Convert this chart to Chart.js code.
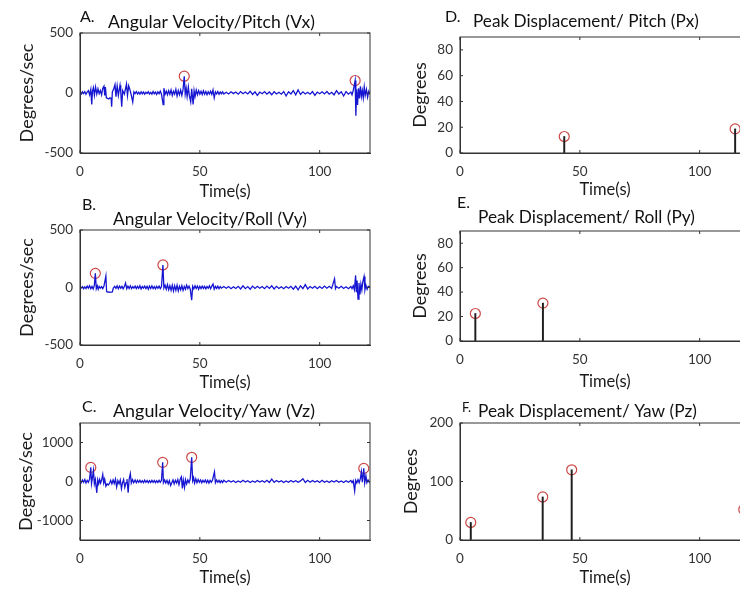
<!DOCTYPE html>
<html>
<head>
<meta charset="utf-8">
<script src="https://cdn.jsdelivr.net/npm/chart.js@4.4.1/dist/chart.umd.min.js"></script>
<style>
  html, body { margin: 0; padding: 0; background: #fff; }
  #figure { position: relative; width: 740px; height: 590px; overflow: hidden; background: #fff; }
  #figure canvas { position: absolute; }
</style>
</head>
<body>
<div id="figure">
  <canvas id="chartVx" width="380" height="205" style="left:0;top:0"></canvas>
  <canvas id="chartVy" width="380" height="205" style="left:0;top:195px"></canvas>
  <canvas id="chartVz" width="380" height="200" style="left:0;top:390px"></canvas>
  <canvas id="chartPx" width="380" height="205" style="left:380px;top:0"></canvas>
  <canvas id="chartPy" width="380" height="205" style="left:380px;top:195px"></canvas>
  <canvas id="chartPz" width="380" height="200" style="left:380px;top:390px"></canvas>
</div>
<script>
/* ---- data ---- */
const timeTicks = [0, 50, 100];
const velTicks = [-500, 0, 500];
const yawVelTicks = [-1000, 0, 1000];
const dispTicks = [0, 20, 40, 60, 80];
const yawDispTicks = [0, 100, 200];

// angular velocity traces, [time s, deg/s]
const vxTrace = [[0,5],[0.5,-8],[1,10],[1.5,-5],[2,12],[2.5,-10],[3,8],[3.5,20],[4,-15],[4.5,30],[4.9,-95],[5.2,15],[5.6,45],[6,-20],[6.5,50],[7,-10],[7.5,35],[8,-5],[8.5,20],[9,-15],[9.5,40],[10,57],[10.3,-20],[10.6,50],[11,-40],[11.5,-45],[12,-50],[12.5,-40],[13,-45],[13.2,-115],[13.5,10],[14,30],[14.6,70],[15,-30],[15.5,60],[16,-20],[16.7,65],[17,10],[17.4,-115],[17.8,20],[18.5,-10],[19.4,75],[19.8,-20],[20.3,60],[20.8,30],[21.3,-10],[22,-75],[22.5,10],[23,-5],[23.5,12],[24,-8],[24.5,6],[25,-10],[25.5,10],[26,-6],[26.5,8],[27,-10],[27.5,6],[28,-4],[28.5,10],[29,-8],[29.5,5],[30,-10],[30.5,12],[31,-6],[31.5,8],[32,-12],[32.5,10],[33,-5],[33.5,15],[34,-10],[34.7,-96],[35,40],[35.5,-10],[36,15],[36.5,-15],[37,20],[37.5,-10],[38,25],[38.5,-20],[39,15],[39.5,-10],[40,30],[40.5,-25],[41,20],[41.5,-15],[42,25],[42.5,-20],[43,30],[43.5,140],[43.9,-10],[44.3,40],[44.7,-30],[45.2,50],[45.6,-20],[46.2,-75],[46.6,35],[47.2,-95],[47.6,20],[48,-30],[48.5,25],[49,-15],[49.5,20],[50,-10],[50.5,15],[51,-12],[51.5,18],[52,-10],[52.5,12],[53,-15],[53.5,10],[54,-8],[54.5,15],[55,-12],[55.5,25],[56,-40],[56.5,10],[57,-8],[57.5,12],[58,-10],[58.5,8],[59,-6],[59.5,10],[60,-8],[61,6],[62,-8],[63,10],[64,-5],[65,8],[66,-10],[67,12],[68,-6],[69,8],[70,-8],[71,15],[72,-12],[73,10],[74,-20],[75,8],[76,-6],[77,12],[78,-10],[79,8],[80,-15],[81,10],[82,-8],[83,6],[84,-10],[85,12],[86,-25],[87,10],[88,-8],[89,20],[90,-15],[91,25],[92,-12],[93,10],[94,-8],[95,6],[96,-10],[97,12],[98,-20],[99,8],[100,-6],[101,10],[102,-8],[103,12],[104,-10],[105,6],[106,-15],[107,20],[108,-8],[109,10],[110,-25],[111,12],[112,-10],[113,8],[113.5,-15],[114,20],[114.8,104],[115.1,-190],[115.4,30],[115.8,-100],[116.2,40],[116.6,-45],[117,55],[117.4,-30],[117.8,20],[118.2,-40],[118.6,50],[119,-20],[119.5,30],[120,-35],[120.5,15],[121,-10]];

const vyTrace = [[0,5],[0.5,-5],[1,8],[1.5,-10],[2,6],[2.5,-8],[3,12],[3.5,-5],[4,15],[4.5,-10],[5,10],[5.5,-12],[6,20],[6.4,123],[6.8,-10],[7.2,15],[7.6,-15],[8,10],[8.5,-5],[9,8],[9.5,-10],[10,12],[10.8,100],[11.1,-35],[11.5,-40],[12,-38],[12.5,-42],[13,-40],[13.5,-38],[13.9,-5],[14.5,10],[15,-8],[15.5,15],[16,-10],[16.5,12],[17,-6],[17.5,10],[18,-12],[18.5,8],[19,40],[19.5,-10],[20,12],[20.5,-8],[21,15],[21.5,-10],[22,8],[22.5,-6],[23,12],[23.5,-10],[24,10],[24.5,-8],[25,15],[25.5,-12],[26,8],[26.5,-6],[27,12],[27.5,-10],[28,10],[28.5,-15],[29,12],[29.5,-8],[30,15],[30.5,-10],[31,8],[31.5,-12],[32,10],[32.5,-6],[33,12],[33.5,-10],[34,8],[34.6,196],[35,-5],[35.5,20],[36,-15],[36.5,25],[37,-20],[37.5,15],[38,-25],[38.5,20],[39,-30],[39.5,15],[40,-25],[40.5,20],[41,-30],[41.5,10],[42,-20],[42.5,15],[43,-25],[43.5,10],[44,-15],[44.5,20],[45,-10],[45.5,12],[46,-15],[46.6,-110],[47,10],[47.5,-12],[48,15],[48.5,-8],[49,12],[49.5,-15],[50,10],[50.5,-10],[51,12],[51.5,-8],[52,10],[52.5,-12],[53,8],[53.5,-6],[54,15],[54.5,-10],[55,12],[55.5,30],[56,-15],[56.5,10],[57,-8],[57.5,12],[58,-10],[58.5,8],[59,-6],[60,8],[61,-6],[62,8],[63,-10],[64,6],[65,-8],[66,10],[67,-12],[68,15],[69,-10],[70,8],[71,-15],[72,12],[73,-8],[74,10],[75,-6],[76,8],[77,-10],[78,12],[79,-8],[80,15],[81,-12],[82,10],[83,-8],[84,6],[85,-10],[86,8],[87,-6],[88,10],[89,-15],[90,12],[91,-20],[92,15],[93,-10],[94,25],[95,-12],[96,8],[97,-6],[98,10],[99,-10],[100,8],[101,-8],[102,12],[103,-6],[104,10],[105,-8],[106.2,75],[106.6,-10],[107,8],[108,-6],[109,10],[110,-8],[111,6],[112,-10],[113,8],[113.5,-10],[114,15],[114.5,-20],[115,105],[115.3,-40],[115.6,60],[116,-100],[116.4,40],[116.8,-60],[117.2,30],[117.6,-20],[118,50],[118.5,95],[118.9,-20],[119.3,20],[119.8,-15],[120.3,10],[121,5]];

const vzTrace = [[0,20],[0.5,-30],[1,40],[1.5,-20],[2,50],[2.5,-40],[3,30],[3.5,-20],[4,60],[4.5,362],[4.8,-50],[5.2,100],[5.6,280],[6,-60],[6.4,50],[7,-290],[7.4,40],[7.8,-60],[8.2,50],[8.6,-40],[9,30],[9.5,180],[9.9,-40],[10.3,60],[10.8,-120],[11.3,-60],[11.8,-90],[12.3,-50],[12.8,30],[13.3,-60],[13.8,40],[14.3,-50],[14.8,60],[15.3,-140],[15.8,20],[16.3,-60],[16.8,40],[17.3,-180],[17.7,-40],[18.2,50],[18.7,-150],[19.2,-30],[19.6,60],[20.1,-290],[20.5,60],[21,200],[21.4,-40],[21.9,50],[22.4,-30],[23,40],[23.5,-30],[24,30],[24.5,-20],[25,30],[25.5,-25],[26,20],[26.5,-30],[27,35],[27.5,-20],[28,25],[28.5,-30],[29,20],[29.5,-25],[30,30],[30.5,-20],[31,25],[31.5,-30],[32,20],[32.5,-25],[33,30],[33.5,-20],[34,30],[34.5,491],[34.8,-30],[35.3,40],[35.8,-40],[36.3,30],[36.8,-60],[37.3,20],[37.8,-100],[38.3,-30],[38.8,40],[39.3,-60],[39.8,30],[40.3,-40],[40.8,50],[41.3,-80],[41.8,60],[42.3,120],[42.7,-180],[43.1,40],[43.6,-150],[44,50],[44.5,-60],[45,40],[45.5,-30],[46,70],[46.6,620],[47,20],[47.4,100],[47.8,-40],[48.3,70],[48.8,-30],[49.3,50],[49.8,-20],[50.3,40],[50.8,-30],[51.3,30],[51.8,-20],[52.3,40],[52.8,-30],[53.3,30],[53.8,-40],[54.3,30],[54.8,-20],[55.3,40],[56.1,250],[56.5,-30],[57,40],[57.5,-20],[58,30],[58.5,-30],[59,20],[59.5,-25],[60,30],[61,-20],[62,25],[63,-15],[64,20],[65,-25],[66,15],[67,-20],[68,30],[69,-15],[70,20],[71,-25],[72,15],[73,-20],[74,25],[75,-15],[76,20],[77,-20],[78,30],[79,-25],[80,60],[81,-20],[82,25],[83,-15],[84,20],[85,-25],[86,15],[87,-20],[88,25],[89,-15],[90,20],[91,-20],[92,15],[93,70],[94,-25],[95,30],[96,-20],[97,25],[98,-15],[99,20],[100,-25],[101,30],[102,-20],[103,15],[104,-25],[105,20],[106,-15],[107,25],[108,-20],[109,15],[110,-25],[111,20],[112,-20],[113,25],[113.5,-30],[114,20],[114.6,-240],[115,30],[115.5,-40],[116,50],[116.5,-30],[117,80],[117.4,250],[117.8,-20],[118.4,336],[118.8,-40],[119.3,150],[119.7,-30],[120.2,40],[120.7,-20],[121,10]];

// detected peaks on the velocity traces, [time s, deg/s]
const vxPeaks = [[43.5,140],[114.8,104]];
const vyPeaks = [[6.4,123],[34.6,196]];
const vzPeaks = [[4.5,362],[34.5,491],[46.6,620],[118.4,336]];

// peak displacement stems, [time s, degrees]
const pxPeaks = [[43.5,12.8],[114.8,18.7]];
const pyPeaks = [[6.4,22.5],[34.6,31]];
const pzPeaks = [[4.5,30],[34.5,73.6],[46.6,120],[118.4,52]];

/* ---- drawing ---- */
const FONT = "Lato, 'Open Sans', sans-serif";
const toXY = arr => arr.map(([x, y]) => ({ x, y }));

// panel heading (letter + title) and the MATLAB style box with inward ticks
const framePlugin = {
  id: "frame",
  afterDraw(chart, args, opts) {
    const ctx = chart.ctx;
    const a = chart.chartArea;
    const sx = chart.scales.x, sy = chart.scales.y;
    ctx.save();
    ctx.strokeStyle = "#333333";
    ctx.lineWidth = 1;
    ctx.strokeRect(a.left, a.top, a.right - a.left, a.bottom - a.top);
    ctx.beginPath();
    for (const v of opts.xTicks) {
      const px = sx.getPixelForValue(v);
      ctx.moveTo(px, a.bottom); ctx.lineTo(px, a.bottom - 3);
      ctx.moveTo(px, a.top); ctx.lineTo(px, a.top + 3);
    }
    for (const v of opts.yTicks) {
      const py = sy.getPixelForValue(v);
      ctx.moveTo(a.left, py); ctx.lineTo(a.left + 3, py);
      ctx.moveTo(a.right, py); ctx.lineTo(a.right - 3, py);
    }
    ctx.stroke();

    ctx.fillStyle = "#111";
    ctx.textBaseline = "alphabetic";
    ctx.textAlign = "left";
    ctx.font = `${opts.letterSize}px ${FONT}`;
    ctx.fillText(opts.letter, opts.letterX, opts.letterY);
    // size the title so it spans the same width as in the figure
    ctx.font = `18px ${FONT}`;
    const size = 18 * opts.titleWidth / ctx.measureText(opts.title).width;
    ctx.font = `${size.toFixed(2)}px ${FONT}`;
    ctx.fillText(opts.title, opts.titleX, opts.titleY);
    ctx.restore();
  }
};

function makePanel(p) {
  const datasets = [];
  if (p.trace) {
    datasets.push({
      type: "line", data: toXY(p.trace), borderColor: "#1616d2", borderWidth: 1.3,
      pointRadius: 0, tension: 0, fill: false
    });
  }
  if (p.stems) {
    datasets.push({
      type: "bar", data: toXY(p.stems), backgroundColor: "#1e1e1e",
      barThickness: 1.3, borderWidth: 0
    });
  }
  datasets.push({
    type: "scatter", data: toXY(p.peaks), pointStyle: "circle", pointRadius: 5,
    backgroundColor: "rgba(0,0,0,0)", borderColor: "#cc4848", borderWidth: 1.2
  });

  new Chart(document.getElementById(p.id), {
    type: "scatter",
    data: { datasets },
    options: {
      responsive: false,
      animation: false,
      layout: { padding: { top: p.padTop, right: 10, left: 0, bottom: 0 } },
      plugins: {
        legend: { display: false },
        tooltip: { enabled: false },
        frame: Object.assign({ xTicks: timeTicks, yTicks: p.yTicks }, p.heading)
      },
      scales: {
        x: {
          type: "linear", min: 0, max: 121, offset: false,
          afterBuildTicks: s => { s.ticks = timeTicks.map(v => ({ value: v })); },
          afterFit: s => { s.height = p.xHeight; },
          grid: { display: false, drawTicks: false, offset: false },
          border: { display: true, color: "#333", width: 1 },
          ticks: { color: "#333", font: { family: FONT, size: 13.5 }, padding: 11,
                   maxRotation: 0, autoSkip: false, callback: v => String(v) },
          title: { display: true, text: "Time(s)", color: "#1a1a1a",
                   font: { family: FONT, size: 16.5 }, padding: { top: 0, bottom: p.xTitlePad } }
        },
        y: {
          type: "linear", min: p.yMin, max: p.yMax,
          afterBuildTicks: s => { s.ticks = p.yTicks.map(v => ({ value: v })); },
          afterFit: s => { s.width = 80; },
          grid: { display: false, drawTicks: false },
          border: { display: true, color: "#333", width: 1 },
          ticks: { color: "#333", font: { family: FONT, size: 13.5 }, padding: 7,
                   autoSkip: false, callback: v => String(v) },
          title: { display: true, text: p.yLabel, color: "#1a1a1a",
                   font: { family: FONT, size: 18 }, padding: { top: p.yTitlePad, bottom: 0 } }
        }
      }
    },
    plugins: [framePlugin]
  });
}

makePanel({ id: "chartVx", trace: vxTrace, peaks: vxPeaks, yMin: -500, yMax: 500, yTicks: velTicks,
  yLabel: "Degrees/sec", padTop: 33, xHeight: 52, xTitlePad: 3, yTitlePad: 16,
  heading: { letter: "A.", letterSize: 16, letterX: 80, letterY: 22,
             title: "Angular Velocity/Pitch (Vx)", titleX: 108, titleY: 28, titleWidth: 207 } });
makePanel({ id: "chartVy", trace: vyTrace, peaks: vyPeaks, yMin: -500, yMax: 500, yTicks: velTicks,
  yLabel: "Degrees/sec", padTop: 35, xHeight: 55, xTitlePad: 7, yTitlePad: 16,
  heading: { letter: "B.", letterSize: 16, letterX: 82, letterY: 15,
             title: "Angular Velocity/Roll (Vy)", titleX: 113, titleY: 30, titleWidth: 194 } });
makePanel({ id: "chartVz", trace: vzTrace, peaks: vzPeaks, yMin: -1500, yMax: 1500, yTicks: yawVelTicks,
  yLabel: "Degrees/sec", padTop: 33, xHeight: 50, xTitlePad: 2, yTitlePad: 15,
  heading: { letter: "C.", letterSize: 16, letterX: 82, letterY: 22,
             title: "Angular Velocity/Yaw (Vz)", titleX: 113, titleY: 27, titleWidth: 202 } });
makePanel({ id: "chartPx", stems: pxPeaks, peaks: pxPeaks, yMin: 0, yMax: 90, yTicks: dispTicks,
  yLabel: "Degrees", padTop: 37, xHeight: 52, xTitlePad: 5, yTitlePad: 29,
  heading: { letter: "D.", letterSize: 16, letterX: 65, letterY: 22,
             title: "Peak Displacement/ Pitch (Px)", titleX: 93, titleY: 27, titleWidth: 226 } });
makePanel({ id: "chartPy", stems: pyPeaks, peaks: pyPeaks, yMin: 0, yMax: 90, yTicks: dispTicks,
  yLabel: "Degrees", padTop: 36, xHeight: 59, xTitlePad: 8, yTitlePad: 29,
  heading: { letter: "E.", letterSize: 16, letterX: 77, letterY: 13,
             title: "Peak Displacement/ Roll (Py)", titleX: 98, titleY: 28, titleWidth: 217 } });
makePanel({ id: "chartPz", stems: pzPeaks, peaks: pzPeaks, yMin: 0, yMax: 200, yTicks: yawDispTicks,
  yLabel: "Degrees", padTop: 33, xHeight: 50, xTitlePad: 2, yTitlePad: 20,
  heading: { letter: "F.", letterSize: 13, letterX: 82, letterY: 22,
             title: "Peak Displacement/ Yaw (Pz)", titleX: 98, titleY: 27, titleWidth: 219 } });
</script>
</body>
</html>
